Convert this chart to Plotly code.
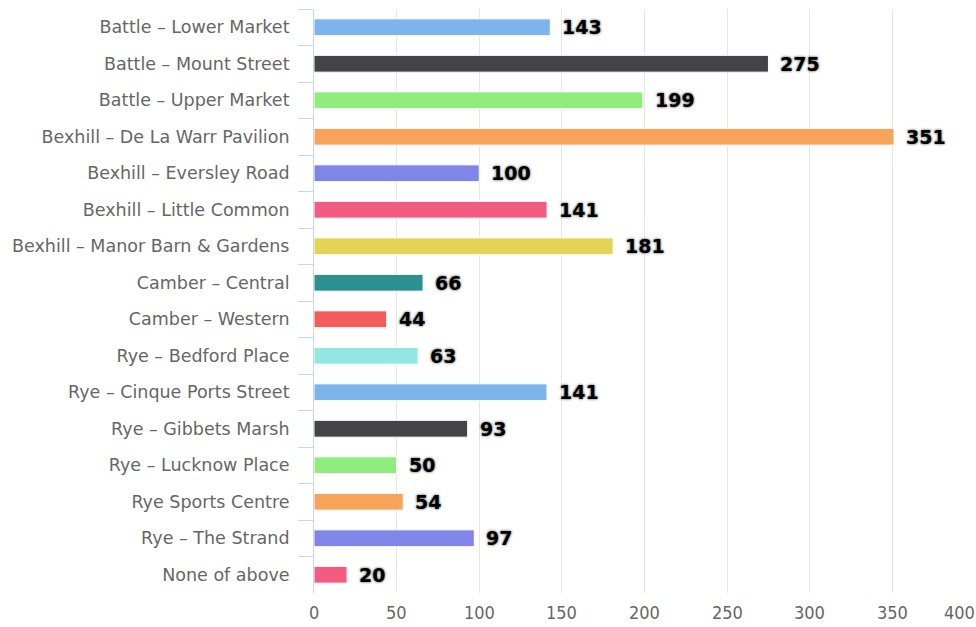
import plotly.graph_objects as go

# Visit counts per location
locations = [
    "Battle – Lower Market",
    "Battle – Mount Street",
    "Battle – Upper Market",
    "Bexhill – De La Warr Pavilion",
    "Bexhill – Eversley Road",
    "Bexhill – Little Common",
    "Bexhill – Manor Barn & Gardens",
    "Camber – Central",
    "Camber – Western",
    "Rye – Bedford Place",
    "Rye – Cinque Ports Street",
    "Rye – Gibbets Marsh",
    "Rye – Lucknow Place",
    "Rye Sports Centre",
    "Rye – The Strand",
    "None of above",
]
counts = [143, 275, 199, 351, 100, 141, 181, 66, 44, 63, 141, 93, 50, 54, 97, 20]

palette = ["#7cb5ec", "#434348", "#90ed7d", "#f7a35c", "#8085e9",
           "#f15c80", "#e4d354", "#2b908f", "#f45b5b", "#91e8e1"]
bar_colors = [palette[i % len(palette)] for i in range(len(counts))]

x_ticks = [0, 50, 100, 150, 200, 250, 300, 350, 400]
x_max = 400

fig = go.Figure()
fig.add_trace(go.Bar(
    y=locations,
    x=counts,
    orientation="h",
    width=0.46,
    marker=dict(color=bar_colors, line=dict(color="white", width=1)),
    hoverinfo="x+y",
))

annotations = []
# value labels at the end of each bar
for loc, val in zip(locations, counts):
    annotations.append(dict(
        x=val, y=loc, xref="x", yref="y",
        text=f"<b>{val}</b>", showarrow=False,
        xanchor="left", yanchor="middle", xshift=10,
        font=dict(family="DejaVu Sans", size=19, color="#000000",
                  shadow="0px 0px 3px #777, 0px 0px 2px #999"),
    ))
# x-axis tick labels (the last one kept inside the page)
for t in x_ticks:
    annotations.append(dict(
        x=t, y=0, xref="x", yref="paper",
        text=str(t), showarrow=False,
        xanchor="right" if t == x_max else "center",
        yanchor="top", yshift=-8, borderpad=0,
        xshift=1 if t == x_max else 0,
        font=dict(family="DejaVu Sans Condensed, Liberation Sans Narrow, sans-serif",
                  size=18, color="#666666"),
    ))

fig.update_layout(
    width=976, height=627,
    margin=dict(l=314, r=1, t=9, b=34),
    paper_bgcolor="white", plot_bgcolor="white",
    showlegend=False,
    annotations=annotations,
    xaxis=dict(
        range=[0, x_max], tickvals=x_ticks, showticklabels=False,
        showgrid=True, gridcolor="#e6e6e6", gridwidth=1,
        zeroline=False, showline=False, fixedrange=True,
    ),
    yaxis=dict(
        categoryorder="array", categoryarray=locations,
        autorange="reversed",
        showline=True, linecolor="#ccd6eb", linewidth=1,
        ticks="outside", tickson="boundaries", ticklen=15,
        tickcolor="#ccd6eb", tickwidth=1,
        ticklabelstandoff=20,
        tickfont=dict(family="DejaVu Sans", size=17.5, color="#666666"),
        showgrid=False, zeroline=False, fixedrange=True,
    ),
)

fig.write_html("out.html")
